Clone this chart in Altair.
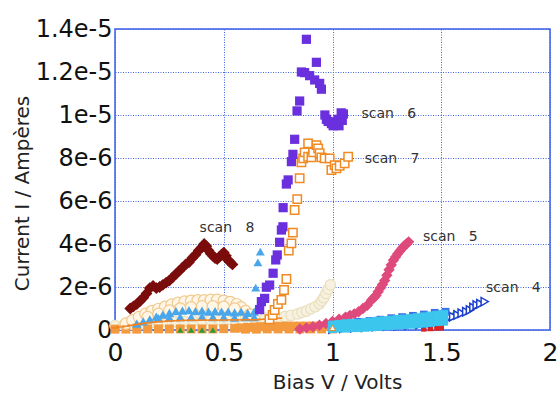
import altair as alt
import pandas as pd

# ---------------- data (V in volts, I in micro-amperes) ----------------
s8_V = [0.07, 0.085, 0.10, 0.115, 0.13, 0.145, 0.16, 0.175, 0.19, 0.205, 0.22, 0.235, 0.25, 0.265,
        0.28, 0.295, 0.31, 0.325, 0.34, 0.355, 0.37, 0.385, 0.40, 0.41, 0.42, 0.43, 0.44, 0.45,
        0.46, 0.47, 0.48, 0.49, 0.50, 0.51, 0.52, 0.53, 0.54]
s8_I = [1.0, 1.1, 1.2, 1.35, 1.5, 1.7, 1.95, 2.05, 1.95, 2.0, 2.1, 2.2, 2.3, 2.45,
        2.6, 2.75, 2.9, 3.05, 3.15, 3.35, 3.5, 3.7, 3.85, 4.0, 3.9, 3.7, 3.55, 3.45,
        3.35, 3.3, 3.4, 3.5, 3.6, 3.45, 3.25, 3.15, 3.05]

s6_V = [0.665, 0.673, 0.688, 0.696, 0.711, 0.727, 0.739, 0.746, 0.757, 0.765, 0.772, 0.773, 0.788,
        0.796, 0.811, 0.818, 0.826, 0.837, 0.849, 0.857, 0.872, 0.88, 0.895, 0.918, 0.926, 0.941,
        0.949, 0.965, 0.972, 0.98, 0.995, 1.003, 1.01, 1.025, 1.03, 1.04, 1.045, 1.05]
s6_I = [0.95, 1.32, 1.47, 1.99, 2.09, 2.64, 3.26, 3.49, 4.08, 4.65, 4.8, 5.69, 6.79,
        6.98, 7.83, 8.17, 8.87, 10.19, 10.65, 12.0, 11.97, 13.52, 11.83, 11.63, 12.45, 11.47,
        11.2, 10.0, 9.8, 9.7, 9.6, 9.5, 9.65, 9.8, 9.5, 10.1, 9.75, 10.05]

s7_V = [0.71, 0.725, 0.734, 0.749, 0.765, 0.777, 0.788, 0.799, 0.811, 0.818, 0.826, 0.838, 0.849,
        0.857, 0.865, 0.872, 0.888, 0.888, 0.903, 0.911, 0.926, 0.934, 0.941, 0.949, 0.964,
        0.987, 0.995, 1.010, 1.018, 1.033, 1.056, 1.072]
s7_I = [0.5, 0.7, 0.93, 1.21, 1.40, 1.86, 2.37, 3.69, 4.03, 4.53, 5.58, 6.09, 7.06,
        7.8, 7.98, 8.26, 8.68, 8.06, 8.03, 8.26, 8.6, 8.45, 8.22, 8.03, 7.98,
        7.98, 7.44, 7.67, 7.52, 7.64, 7.75, 8.06]

s5_V = [0.85, 0.88, 0.91, 0.94, 0.97, 1.0, 1.03, 1.06, 1.08, 1.10, 1.12, 1.14, 1.16, 1.18, 1.19,
        1.20, 1.21, 1.22, 1.23, 1.24, 1.25, 1.26, 1.27, 1.28, 1.29, 1.30, 1.31, 1.32, 1.33, 1.34, 1.35]
s5_I = [0.05, 0.1, 0.15, 0.22, 0.3, 0.4, 0.5, 0.6, 0.68, 0.75, 0.85, 1.0, 1.15, 1.4, 1.5,
        1.6, 1.78, 1.95, 2.12, 2.3, 2.55, 2.8, 3.02, 3.25, 3.4, 3.55, 3.68, 3.8, 3.92, 4.0, 4.1]

s4_V = [1.0, 1.05, 1.1, 1.15, 1.2, 1.25, 1.3, 1.35, 1.4, 1.43, 1.46, 1.49, 1.52, 1.555, 1.575,
        1.594, 1.615, 1.632, 1.648, 1.663, 1.68, 1.70]
s4_I = [0.05, 0.08, 0.1, 0.13, 0.16, 0.18, 0.2, 0.23, 0.26, 0.3, 0.34, 0.4, 0.47, 0.62, 0.7,
        0.78, 0.85, 0.93, 1.05, 1.16, 1.22, 1.32]

cyan_V = [1.0, 1.0, 1.03, 1.03, 1.06, 1.06, 1.09, 1.09, 1.12, 1.12, 1.15, 1.15, 1.18, 1.18, 1.21, 1.21,
          1.24, 1.24, 1.27, 1.27, 1.30, 1.30, 1.33, 1.33, 1.36, 1.36, 1.39, 1.39, 1.42, 1.42,
          1.45, 1.45, 1.48, 1.48, 1.51, 1.51]
cyan_I = [0.08, 0.22, 0.1, 0.25, 0.1, 0.28, 0.12, 0.3, 0.12, 0.3, 0.14, 0.33, 0.16, 0.36, 0.18, 0.4,
          0.2, 0.42, 0.22, 0.45, 0.24, 0.48, 0.26, 0.5, 0.28, 0.53, 0.3, 0.56, 0.33, 0.6,
          0.36, 0.64, 0.4, 0.68, 0.42, 0.72]

blue_V = [1.12, 1.17, 1.22, 1.27, 1.32, 1.37, 1.42, 1.47, 1.52]
blue_I = [0.38, 0.42, 0.48, 0.55, 0.6, 0.66, 0.72, 0.8, 0.85]

green_V = [1.53, 1.56, 0.30, 0.35, 0.40, 0.45]
green_I = [0.85, 0.83, 0.0, 0.0, 0.0, 0.0]

red_V = [1.42, 1.45, 1.48, 1.50]
red_I = [0.05, 0.07, 0.09, 0.1]

sky_V = [0.647, 0.657, 0.668]
sky_I = [1.97, 3.15, 3.64]

skyband_V = [0.10, 0.13, 0.16, 0.19, 0.22, 0.25, 0.28, 0.31, 0.34, 0.37, 0.40, 0.43, 0.46, 0.49,
             0.52, 0.55, 0.58, 0.61, 0.64,
             0.20, 0.25, 0.30, 0.35, 0.40, 0.45, 0.50, 0.55, 0.60, 0.64]
skyband_I = [0.3, 0.4, 0.5, 0.62, 0.72, 0.8, 0.88, 0.9, 0.92, 0.88, 0.9, 0.85, 0.88, 0.86,
             0.85, 0.82, 0.85, 0.8, 0.85,
             0.55, 0.58, 0.6, 0.6, 0.62, 0.6, 0.6, 0.58, 0.6, 0.6]

tan_V = [0.05, 0.08, 0.11, 0.14, 0.17, 0.20, 0.23, 0.26, 0.29, 0.32, 0.35, 0.38, 0.41, 0.44,
         0.47, 0.50, 0.53, 0.56, 0.58, 0.60, 0.62,
         0.15, 0.20, 0.25, 0.30, 0.35, 0.40, 0.45, 0.50, 0.55]
tan_I = [0.3, 0.45, 0.6, 0.75, 0.88, 0.98, 1.08, 1.18, 1.26, 1.32, 1.36, 1.38, 1.38, 1.4,
         1.4, 1.36, 1.3, 1.2, 1.05, 0.88, 0.72,
         0.6, 0.75, 0.9, 1.0, 1.05, 1.1, 1.1, 1.08, 1.0]

beige_V = [0.0, 0.04, 0.08, 0.12, 0.16, 0.20, 0.24, 0.28, 0.32, 0.36, 0.40, 0.44, 0.48, 0.52,
           0.56, 0.60, 0.63, 0.66, 0.69, 0.72, 0.75, 0.78, 0.81, 0.84, 0.86, 0.88, 0.90, 0.92,
           0.94, 0.95, 0.96, 0.97, 0.98, 0.99]
beige_I = [0.2, 0.22, 0.25, 0.28, 0.3, 0.32, 0.35, 0.38, 0.4, 0.42, 0.44, 0.46, 0.48, 0.5,
           0.55, 0.6, 0.62, 0.6, 0.55, 0.5, 0.55, 0.62, 0.68, 0.75, 0.82, 0.88, 0.98, 1.08,
           1.22, 1.35, 1.5, 1.7, 1.9, 2.1]

otick_V = [0.0, 0.025, 0.05, 0.075, 0.10, 0.125, 0.15, 0.175, 0.20, 0.225, 0.25, 0.275, 0.30, 0.325,
           0.35, 0.375, 0.40, 0.425, 0.45, 0.475, 0.50, 0.525, 0.55, 0.575, 0.60, 0.625, 0.65,
           0.675, 0.70, 0.725, 0.75]
otick_I = [0.1, 0.14, 0.18, 0.22, 0.26, 0.3, 0.33, 0.36, 0.38, 0.4, 0.42, 0.43, 0.44, 0.45,
           0.45, 0.45, 0.46, 0.46, 0.46, 0.46, 0.46, 0.47, 0.47, 0.47, 0.48, 0.48, 0.48,
           0.5, 0.5, 0.52, 0.55]

oband_V = [0.0, 0.05, 0.10, 0.15, 0.20, 0.25, 0.30, 0.35, 0.40, 0.45, 0.50, 0.55, 0.58, 0.61,
           0.64, 0.67, 0.70, 0.73, 0.76, 0.79, 0.82, 0.85, 0.88, 0.91, 0.94, 0.97, 1.0,
           0.60, 0.65, 0.70, 0.75, 0.80, 0.85, 0.90, 0.95, 1.0]
oband_I = [0.04, 0.04, 0.04, 0.05, 0.05, 0.05, 0.05, 0.05, 0.05, 0.05, 0.06, 0.08, 0.1, 0.12,
           0.14, 0.15, 0.16, 0.17, 0.17, 0.18, 0.18, 0.18, 0.18, 0.18, 0.17, 0.16, 0.15,
           0.04, 0.04, 0.05, 0.05, 0.05, 0.05, 0.05, 0.05, 0.05]

otri_V = [1.0]
otri_I = [0.1]

NB = "\u00a0"
label_text = ["scan" + NB * 3 + "6", "scan" + NB * 3 + "7", "scan" + NB * 3 + "8",
              "scan" + NB * 3 + "5", "scan" + NB * 3 + "4"]
label_V = [1.133, 1.148, 0.389, 1.416, 1.706]
label_I = [10.05, 7.95, 4.74, 4.33, 1.95]

y_ticks = [0, 2e-6, 4e-6, 6e-6, 8e-6, 1e-5, 1.2e-5, 1.4e-5]
x_ticks = [0, 0.5, 1, 1.5, 2]

# ---------------- chart ----------------
xs = alt.Scale(domain=[0, 2], nice=False)
ys = alt.Scale(domain=[0, 1.4e-5], nice=False)
FONT = "DejaVu Sans"


def frame(V, I):
    return pd.DataFrame({"V": V, "I": [v * 1e-6 for v in I]})


def enc(first=False):
    if first:
        return dict(
            x=alt.X("V:Q", scale=xs, title="Bias V / Volts",
                    axis=alt.Axis(values=x_ticks, labelExpr="toString(datum.value)",
                                  labelFontSize=25, labelFont=FONT, labelFlush=False,
                                  labelColor="#111", labelPadding=10, tickSize=0,
                                  domain=False, grid=True, gridColor="#3f63e6",
                                  gridDash=[1, 1.5], gridWidth=1,
                                  titleFont=FONT, titleFontSize=20, titleFontWeight="normal",
                                  titleColor="#222", titleX=222, titleY=58,
                                  titleBaseline="alphabetic", titleAlign="center")),
            y=alt.Y("I:Q", scale=ys, title="Current I / Ampères",
                    axis=alt.Axis(values=y_ticks,
                                  labelExpr="datum.value == 0 ? '0' : format(datum.value, '~e')",
                                  labelFontSize=24, labelFont=FONT, labelColor="#111",
                                  labelFlush=False, labelBaseline="middle",
                                  labelPadding=3, tickSize=0, domain=False, grid=True,
                                  gridColor="#3f63e6", gridDash=[1, 1.5], gridWidth=1,
                                  titleFont=FONT, titleFontSize=20, titleFontWeight="normal",
                                  titleColor="#222", titleX=-93, titleY=164,
                                  titleAngle=-90, titleAlign="center",
                                  titleBaseline="middle")),
        )
    return dict(x=alt.X("V:Q", scale=xs), y=alt.Y("I:Q", scale=ys))


def layer(V, I, shape, size, color, filled=True, fill=None, stroke_w=1.0, first=False, opacity=1.0):
    kw = dict(shape=shape, size=size, filled=filled, opacity=opacity)
    if filled:
        kw["color"] = color
        kw["strokeWidth"] = 0
    else:
        kw["stroke"] = color
        kw["strokeWidth"] = stroke_w
        kw["fill"] = fill if fill else "white"
        kw["fillOpacity"] = 1
    return alt.Chart(frame(V, I)).mark_point(**kw).encode(**enc(first))


layers = [
    layer(beige_V, beige_I, "circle", 110, "#e9dfbf", filled=False, fill="#f7f1df", stroke_w=1.2, first=True),
    layer(oband_V, oband_I, "square", 80, "#f49a3e"),
    layer(tan_V, tan_I, "circle", 130, "#f1c98e", filled=False, fill="#fff6e6", stroke_w=1.2),
    layer(skyband_V, skyband_I, "triangle-up", 90, "#4aa6ea"),
    layer(otick_V, otick_I, "stroke", 70, "#f08424", filled=False, stroke_w=1.5),
    layer(green_V, green_I, "triangle-up", 40, "#2a9a3a"),
    layer(red_V, red_I, "square", 30, "#dd2222"),
    layer(s5_V, s5_I, "diamond", 130, "#de4a7c"),
    layer(s4_V, s4_I, "triangle-right", 70, "#1d3fd0", filled=False, stroke_w=1.5),
    layer(blue_V, blue_I, "square", 60, "#3a6fe6"),
    layer(cyan_V, cyan_I, "square", 70, "#3cc6ee", filled=False, fill="#3cc6ee", stroke_w=1),
    layer(otri_V, otri_I, "triangle-up", 40, "#f08424", filled=False, stroke_w=1),
    layer(sky_V, sky_I, "triangle-up", 80, "#4aa6ea"),
    layer(s8_V, s8_I, "diamond", 140, "#7a0c0c"),
    layer(s7_V, s7_I, "square", 70, "#f08a22", filled=False, stroke_w=1.5),
    layer(s6_V, s6_I, "square", 85, "#6a30de"),
]

labels = alt.Chart(pd.DataFrame({"t": label_text, "V": label_V,
                                 "I": [v * 1e-6 for v in label_I]})).mark_text(
    align="left", baseline="middle", font=FONT, fontSize=14, color="#333"
).encode(x=alt.X("V:Q", scale=xs), y=alt.Y("I:Q", scale=ys), text="t:N")

chart = alt.layer(*layers, labels).properties(
    width=435, height=301,
    autosize=alt.AutoSizeParams(type="none"),
    padding={"left": 115, "top": 29, "right": 10, "bottom": 64},
    background="white",
).configure_view(stroke="#3b5ee8", strokeWidth=1.5)

chart.save("out.html", embed_options={"renderer": "svg", "actions": False})
